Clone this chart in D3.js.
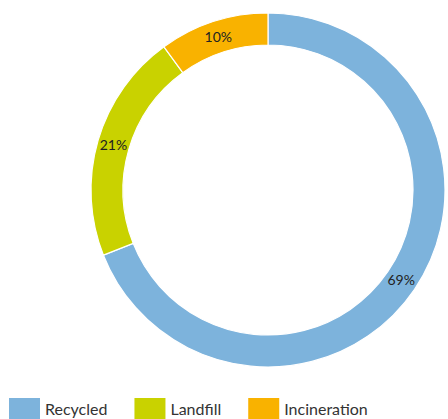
<!DOCTYPE html>
<html>
<head>
<meta charset="utf-8">
<script src="https://cdn.jsdelivr.net/npm/d3@7"></script>
<style>
  html, body { margin: 0; padding: 0; background: #fff; }
  svg { display: block; }
</style>
</head>
<body>
<svg id="chart" width="448" height="419"></svg>
<script>
const categories = ["Recycled", "Landfill", "Incineration"];
const values = [69, 21, 10];
const colors = ["#7db3dc", "#c9d200", "#f9b200"];

const svg = d3.select("#chart");
const cx = 268, cy = 190, outerR = 177, innerR = 145;

const pie = d3.pie().sort(null).value(d => d.value);
const data = pie(categories.map((c, i) => ({ name: c, value: values[i] })));
const arc = d3.arc().innerRadius(innerR).outerRadius(outerR);
const labelArc = d3.arc().innerRadius(innerR + 15).outerRadius(outerR - 15);
const total = d3.sum(values);

const g = svg.append("g").attr("transform", `translate(${cx},${cy})`);
g.selectAll("path").data(data).enter().append("path")
  .attr("d", arc)
  .attr("fill", (d, i) => colors[i])
  .attr("stroke", "#fff")
  .attr("stroke-width", 1.2);

g.selectAll("text").data(data).enter().append("text")
  .attr("transform", d => `translate(${labelArc.centroid(d)})`)
  .attr("text-anchor", "middle")
  .attr("dy", "0.35em")
  .attr("font-family", "Lato, 'Open Sans', sans-serif")
  .attr("font-size", 14)
  .attr("fill", "#222")
  .text(d => Math.round(d.data.value / total * 100) + "%");

// Legend
const legend = svg.append("g").attr("transform", "translate(9,398)");
let x = 0;
categories.forEach((c, i) => {
  const item = legend.append("g").attr("transform", `translate(${x},0)`);
  item.append("rect").attr("width", 31).attr("height", 22).attr("fill", colors[i]);
  const t = item.append("text")
    .attr("x", 36).attr("y", 17)
    .attr("font-family", "Lato, 'Open Sans', sans-serif")
    .attr("font-size", 16)
    .attr("fill", "#333")
    .text(c);
  x += 36 + t.node().getComputedTextLength() + 27;
});
</script>
</body>
</html>
